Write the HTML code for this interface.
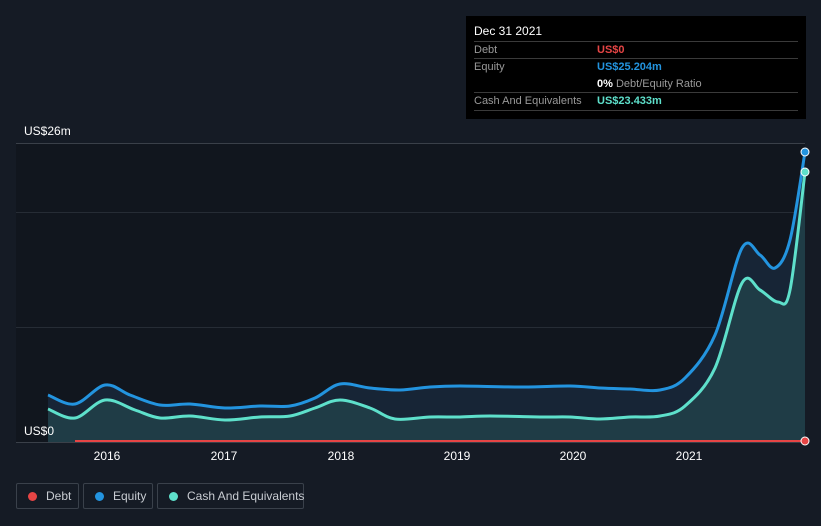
<!DOCTYPE html>
<html><head><style>
body{margin:0;background:#151b25;font-family:"Liberation Sans",sans-serif;}
.tt{position:absolute;left:466px;top:16px;width:340px;height:103px;background:#000;}
.leg{position:absolute;top:483px;height:26px;border:1px solid #3a414b;border-radius:2px;color:#c8ccd2;font-size:12px;line-height:24px;box-sizing:border-box;white-space:nowrap;}
.leg i{display:inline-block;width:9px;height:9px;border-radius:50%;margin:0 9px 0 11px;vertical-align:-1px;}
</style></head><body>
<svg width="821" height="526" style="position:absolute;left:0;top:0">
<rect x="16" y="143" width="789" height="300" fill="#11161e"/>
<line x1="16" y1="143.5" x2="805" y2="143.5" stroke="#3a4049"/>
<line x1="16" y1="212.5" x2="805" y2="212.5" stroke="#262c35"/>
<line x1="16" y1="327.5" x2="805" y2="327.5" stroke="#262c35"/>
<line x1="16" y1="442.5" x2="805" y2="442.5" stroke="#3a4049"/>
<path id="ea" fill="#172536"/>
<path id="ca" fill="#1f3c46"/>
<path id="el" fill="none" stroke="#2394df" stroke-width="3"/>
<path id="cl" fill="none" stroke="#5ee0cb" stroke-width="3"/>
<line x1="75" y1="441" x2="805" y2="441" stroke="#e64545" stroke-width="2"/>
<circle cx="805" cy="152" r="4" fill="#2394df" stroke="#fff" stroke-width="1"/>
<circle cx="805" cy="172" r="4" fill="#5ee0cb" stroke="#fff" stroke-width="1"/>
<circle cx="805" cy="441" r="4" fill="#e64545" stroke="#fff" stroke-width="1"/>
<g fill="#fff" font-size="12" font-family="Liberation Sans">
<text x="24" y="135">US$26m</text>
<text x="24" y="435">US$0</text>
<g text-anchor="middle"><text x="107" y="460">2016</text><text x="224" y="460">2017</text><text x="341" y="460">2018</text><text x="457" y="460">2019</text><text x="573" y="460">2020</text><text x="689" y="460">2021</text></g>
</g>
</svg>
<div class="tt">
<svg width="340" height="103" style="position:absolute;left:0;top:0" font-family="Liberation Sans" font-size="11">
<text x="8" y="19" fill="#fff" font-size="12">Dec 31 2021</text>
<g stroke="#3a3a3a"><line x1="8" y1="25.5" x2="332" y2="25.5"/><line x1="8" y1="42.5" x2="332" y2="42.5"/><line x1="8" y1="76.5" x2="332" y2="76.5"/><line x1="8" y1="94.5" x2="332" y2="94.5"/></g>
<text x="8" y="37" fill="#999">Debt</text><text x="131" y="37" fill="#e64545" font-weight="bold">US$0</text>
<text x="8" y="54" fill="#999">Equity</text><text x="131" y="54" fill="#2394df" font-weight="bold">US$25.204m</text>
<text x="131" y="71" fill="#fff" font-weight="bold">0%<tspan fill="#999" font-weight="normal"> Debt/Equity Ratio</tspan></text>
<text x="8" y="88" fill="#999">Cash And Equivalents</text><text x="131" y="88" fill="#5ee0cb" font-weight="bold">US$23.433m</text>
</svg></div>
<div class="leg" style="left:16px;width:63px"><i style="background:#e64545"></i>Debt</div>
<div class="leg" style="left:83px;width:70px"><i style="background:#2394df"></i>Equity</div>
<div class="leg" style="left:157px;width:147px"><i style="background:#5ee0cb"></i>Cash And Equivalents</div>
<script>
function sm(p){var d="M"+p[0][0]+","+p[0][1];for(var i=0;i<p.length-1;i++){var a=p[i-1]||p[i],b=p[i],c=p[i+1],e=p[i+2]||c;
d+=" C"+(b[0]+(c[0]-a[0])/6)+","+(b[1]+(c[1]-a[1])/6)+" "+(c[0]-(e[0]-b[0])/6)+","+(c[1]-(e[1]-b[1])/6)+" "+c[0]+","+c[1];}return d;}
var E=[[48,395],[75,404],[105,385],[130,395],[160,405],[190,404],[225,408],[260,406],[290,406],[315,398],[340,384],[370,388],[400,390],[430,387],[460,386],[520,387],[570,386],[600,388],[630,389],[660,390],[685,378],[715,335],[742,248],[760,255],[775,268],[790,240],[805,152]];
var C=[[48,409],[75,418],[105,400],[135,410],[160,418],[190,416],[225,420],[260,417],[290,416],[315,408],[340,400],[370,408],[395,419],[430,417],[460,417],[490,416],[540,417],[570,417],[600,419],[630,417],[660,416],[685,406],[715,368],[742,283],[760,290],[778,302],[790,290],[805,172]];
var e=sm(E),c=sm(C);
document.getElementById("el").setAttribute("d",e);document.getElementById("cl").setAttribute("d",c);
document.getElementById("ea").setAttribute("d",e+" L805,442 L48,442Z");document.getElementById("ca").setAttribute("d",c+" L805,442 L48,442Z");
</script>
</body></html>
